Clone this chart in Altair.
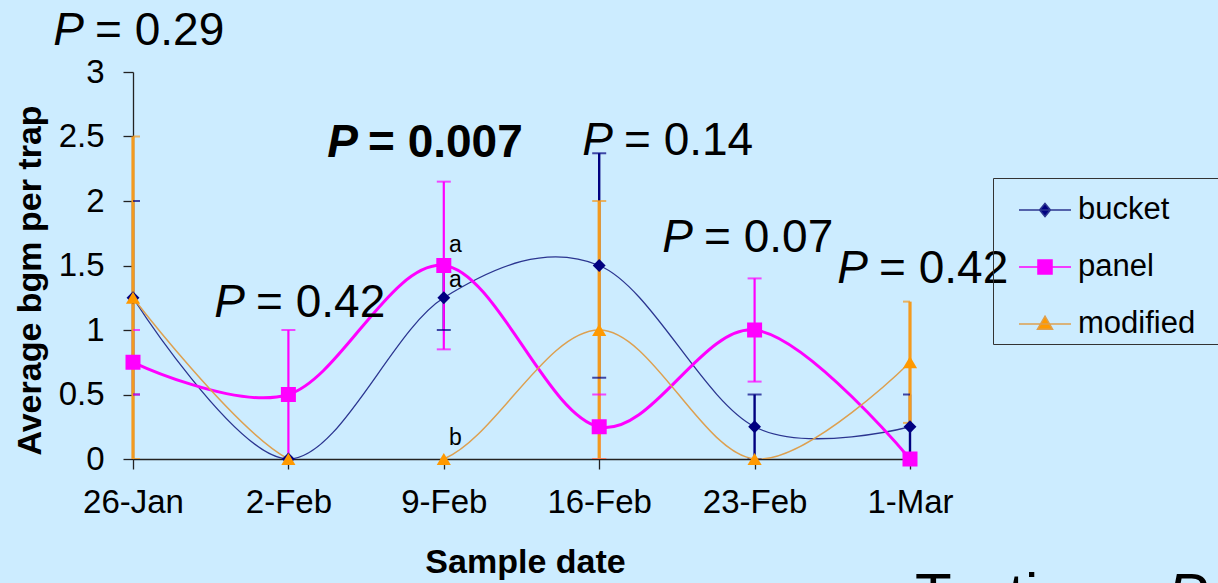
import json
import altair as alt
import pandas as pd

# ---------------- data ----------------
dates = ["26-Jan", "2-Feb", "9-Feb", "16-Feb", "23-Feb", "1-Mar"]
series_names = ["bucket", "panel", "modified"]

bucket = [1.25, 0.0, 1.25, 1.5, 0.25, 0.25]
bucket_err = [0.75, 0.0, 0.25, 0.87, 0.25, 0.25]
panel = [0.75, 0.5, 1.5, 0.25, 1.0, 0.0]
panel_err = [0.25, 0.5, 0.65, 0.25, 0.4, 0.0]
modified = [1.25, 0.0, 0.0, 1.0, 0.0, 0.75]
modified_err = [1.25, 0.0, 0.0, 1.0, 0.0, 0.47]

p_text = ["= 0.29", "= 0.42", "= 0.007", "= 0.14", "= 0.07", "= 0.42"]
p_x = [-0.315, 0.721, 1.448, 3.089, 3.604, 4.730]
p_y = [3.209, 1.101, 2.341, 2.357, 1.605, 1.364]
p_bold = [False, False, True, False, False, False]

letters = ["a", "a", "b"]
letter_x = [2.033, 2.033, 2.033]
letter_y = [1.605, 1.333, 0.109]

note_text = ["Testing", "P"]
note_x = [5.032, 6.654]
note_y = [-1.209, -1.209]
note_italic = [False, True]

y_ticks = [0, 0.5, 1, 1.5, 2, 2.5, 3]

# ---------------- styles ----------------
FONT = "Liberation Sans"
BG = "#CCECFF"
marker_colors = {"bucket": "#000080", "panel": "#FF00FF", "modified": "#FF9900"}
line_colors = {"bucket": "#2B3590", "panel": "#FF00FF", "modified": "#DDA050"}
line_widths = {"bucket": 1.3, "panel": 3.0, "modified": 1.5}
err_colors = {"bucket": "#000080", "panel": "#FF00FF", "modified": "#F39A1E"}
err_widths = {"bucket": 2.4, "panel": 2.2, "modified": 3.2}
shapes = {"bucket": "diamond", "panel": "square", "modified": "triangle-up"}
sizes = {"bucket": 165, "panel": 225, "modified": 200}

legend_paths = [
    "M-1,0H1M0,-0.25L0.21,0L0,0.25L-0.21,0Z",
    "M-1,0H1M-0.27,-0.27H0.27V0.27H-0.27Z",
    "M-1,0H1M0,-0.3L0.29,0.2H-0.29Z",
]

rows = []
for s, vals, errs in zip(series_names, [bucket, panel, modified],
                         [bucket_err, panel_err, modified_err]):
    for i, (v, e) in enumerate(zip(vals, errs)):
        rows.append({"series": s, "idx": i, "value": v, "err": e,
                     "lo": v - e, "hi": v + e})
df = pd.DataFrame(rows)

ptext_df = pd.DataFrame({"px": p_x, "py": p_y, "label": p_text, "bold": p_bold})
letter_df = pd.DataFrame({"lx": letter_x, "ly": letter_y, "t": letters})
note_df = pd.DataFrame({"nx": note_x, "ny": note_y, "t": note_text, "it": note_italic})

xscale = alt.Scale(domain=[0, 5], nice=False, zero=False)
yscale = alt.Scale(domain=[0, 3], nice=False, zero=False)

label_expr = json.dumps(dates) + "[datum.value]"
xaxis = alt.Axis(values=list(range(len(dates))), labelExpr=label_expr, title="Sample date",
                 grid=False, tickSize=10, labelPadding=17, labelFontSize=33,
                 labelFlush=False, labelOverlap=False, labelBound=False,
                 titleFontSize=34, titleFontWeight="bold", titleX=392, titleY=113,
                 titleBaseline="alphabetic", titleAlign="center")
yaxis = alt.Axis(values=y_ticks, format="~g", title="Average bgm per trap", grid=False,
                 tickSize=10, labelPadding=19, labelFontSize=33, labelFlush=False,
                 labelOverlap=False, titleFontSize=34,
                 titleFontWeight="bold", titleX=-103, titleY=208, titleAngle=270,
                 titleBaseline="middle", titleAlign="center")


def X(field):
    return alt.X(f"{field}:Q", scale=xscale, axis=xaxis)


def Y(field):
    return alt.Y(f"{field}:Q", scale=yscale, axis=yaxis)


base = alt.Chart(df)
layers = []
# error bar stems
for s in series_names:
    layers.append(
        base.transform_filter(f"datum.series == '{s}' && datum.err > 0")
        .mark_rule(color=err_colors[s], strokeWidth=err_widths[s])
        .encode(x=X("idx"), y=Y("lo"), y2="hi:Q")
    )
# error bar caps (clipped to the plot area like the original)
for s in series_names:
    for f in ["lo", "hi"]:
        layers.append(
            base.transform_filter(f"datum.series == '{s}' && datum.err > 0")
            .mark_tick(clip=True, orient="horizontal", color=err_colors[s],
                       size=14, thickness=2)
            .encode(x=X("idx"), y=Y(f))
        )
# smoothed lines (clipped to the plot area)
for s in series_names:
    layers.append(
        base.transform_filter(f"datum.series == '{s}'")
        .mark_line(interpolate="cardinal", clip=True, color=line_colors[s],
                   strokeWidth=line_widths[s])
        .encode(x=X("idx"), y=Y("value"), order="idx:Q")
    )
# markers
for s in series_names:
    layers.append(
        base.transform_filter(f"datum.series == '{s}'")
        .mark_point(filled=True, opacity=1, shape=shapes[s], size=sizes[s],
                    color=marker_colors[s])
        .encode(x=X("idx"), y=Y("value"))
    )

# invisible layer that only carries the legend
PAD_CHARS = "\u2800\u2800\u2800"
leg = alt.Legend(orient="none", legendX=860, legendY=106, title=None,
                 symbolSize=2704, symbolStrokeWidth=1.5, symbolOpacity=1,
                 labelFont=FONT, labelFontSize=31, labelColor="black",
                 labelLimit=500,
                 labelOffset=6, symbolOffset=20, padding=5, rowPadding=15,
                 strokeColor="#333333",
                 labelExpr=f"datum.label + '{PAD_CHARS}'")
layers.append(
    base.mark_point(filled=True, opacity=0)
    .encode(
        x=X("idx"), y=Y("value"),
        fill=alt.Fill("series:N", scale=alt.Scale(domain=series_names,
                      range=[marker_colors[s] for s in series_names]), legend=leg),
        stroke=alt.Stroke("series:N", scale=alt.Scale(domain=series_names,
                          range=[line_colors[s] for s in series_names]), legend=leg),
        shape=alt.Shape("series:N", scale=alt.Scale(domain=series_names,
                        range=legend_paths), legend=leg),
    )
)

# P-value annotations
pt = alt.Chart(ptext_df)
layers.append(pt.transform_filter("!datum.bold").mark_text(
    text="P", font=FONT, fontSize=46, fontStyle="italic", align="right",
    baseline="alphabetic", color="black").encode(x=X("px"), y=Y("py")))
layers.append(pt.transform_filter("!datum.bold").mark_text(
    font=FONT, fontSize=46, align="left", dx=11, baseline="alphabetic",
    color="black").encode(x=X("px"), y=Y("py"), text="label:N"))
layers.append(pt.transform_filter("datum.bold").mark_text(
    text="P", font=FONT, fontSize=46, fontStyle="italic", fontWeight="bold",
    align="right", baseline="alphabetic", color="black").encode(x=X("px"), y=Y("py")))
layers.append(pt.transform_filter("datum.bold").mark_text(
    font=FONT, fontSize=46, fontWeight="bold", align="left", dx=10,
    baseline="alphabetic", color="black").encode(x=X("px"), y=Y("py"), text="label:N"))

# significance letters
layers.append(alt.Chart(letter_df).mark_text(
    font=FONT, fontSize=23, align="left", baseline="alphabetic", color="black"
).encode(x=X("lx"), y=Y("ly"), text="t:N"))

# partially visible slide text at the bottom right
nt = alt.Chart(note_df)
layers.append(nt.transform_filter("!datum.it").mark_text(
    font=FONT, fontSize=60, align="left", baseline="alphabetic", color="black"
).encode(x=X("nx"), y=Y("ny"), text="t:N"))
layers.append(nt.transform_filter("datum.it").mark_text(
    font=FONT, fontSize=60, fontStyle="italic", align="left",
    baseline="alphabetic", color="black"
).encode(x=X("nx"), y=Y("ny"), text="t:N"))

chart = (
    alt.layer(*layers)
    .properties(width=777, height=387,
                padding={"left": 133, "top": 72, "right": 308, "bottom": 124},
                autosize=alt.AutoSizeParams(type="none"))
    .configure(background=BG, font=FONT)
    .configure_view(strokeWidth=0)
    .configure_axis(domainColor="#222222", tickColor="#222222", labelColor="black",
                    titleColor="black", labelFont=FONT, titleFont=FONT,
                    domainWidth=1.3, tickWidth=1.3)
)

chart.save("out.html", embed_options={"renderer": "svg", "actions": False})
